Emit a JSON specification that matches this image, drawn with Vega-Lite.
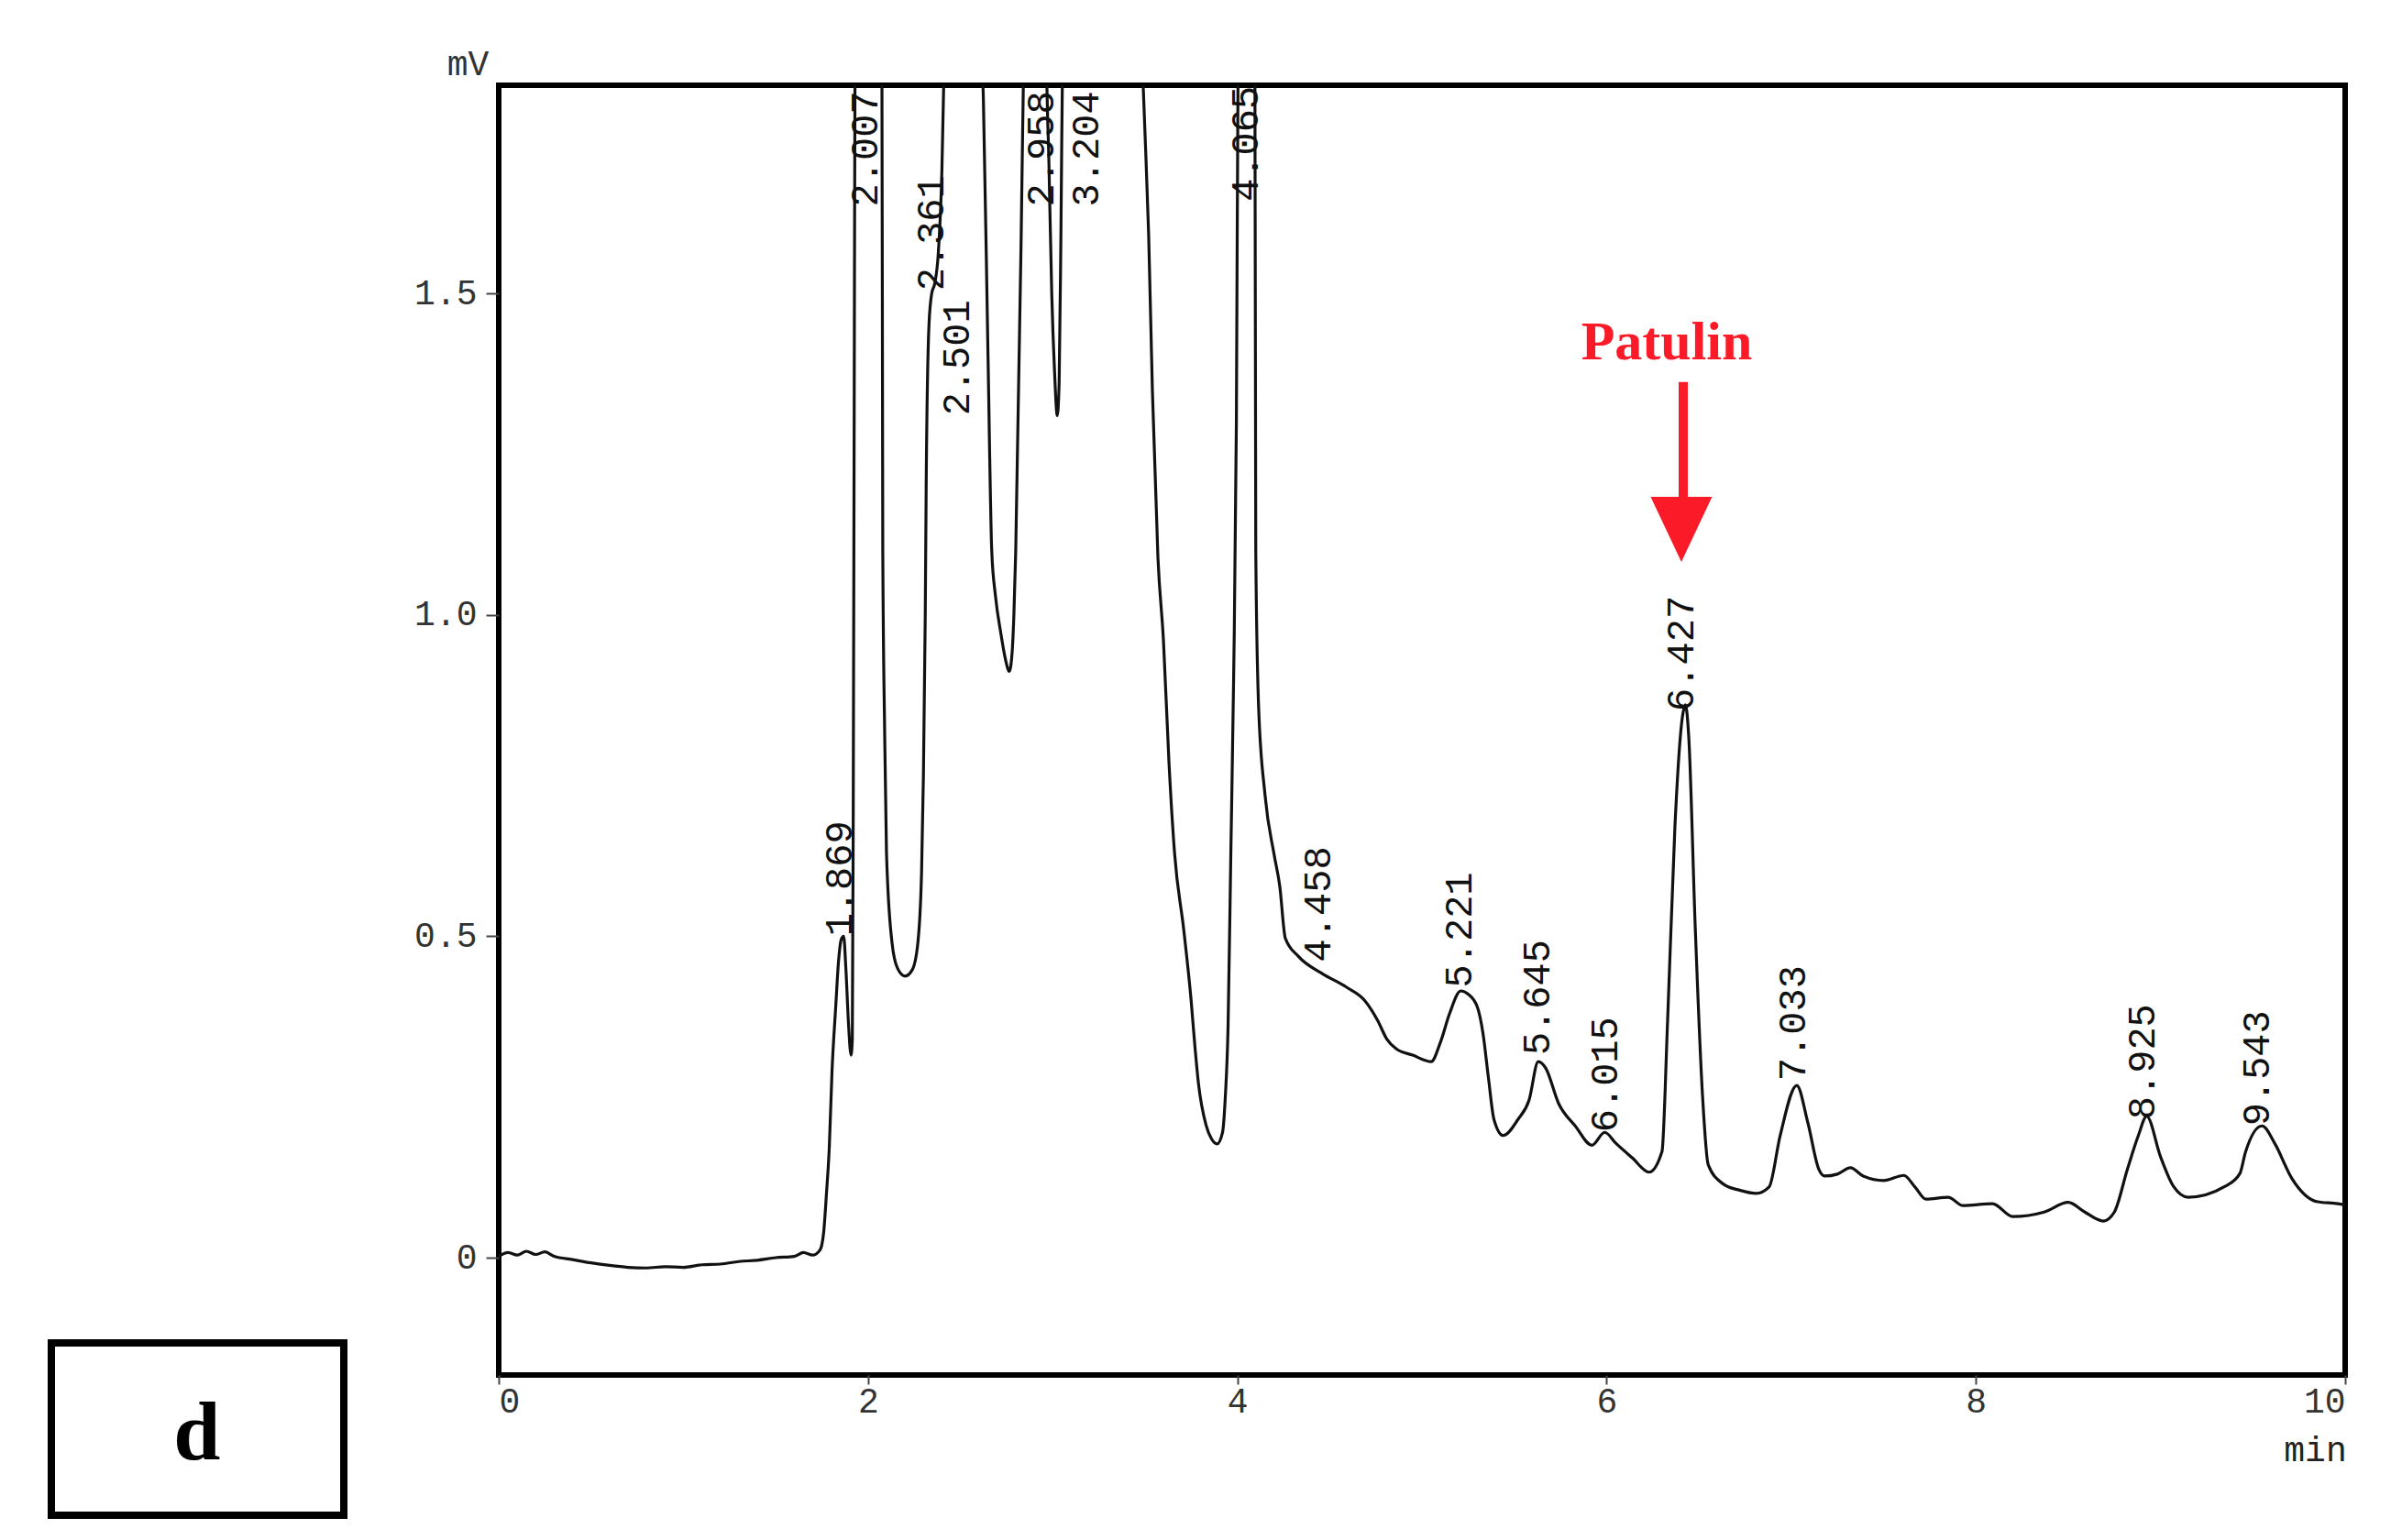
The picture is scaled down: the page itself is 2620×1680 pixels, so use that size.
{
  "$schema": "https://vega.github.io/schema/vega-lite/v6.json",
  "width": 2014,
  "height": 1407,
  "autosize": {"type": "none"},
  "padding": {"left": 544, "top": 93, "right": 62, "bottom": 180},
  "background": "white",
  "config": {
    "view": {"stroke": "#000000", "strokeWidth": 6},
    "axis": {"grid": false, "domain": false}
  },
  "datasets": {
    "trace": [
      {"t": 0.0, "v": 0.002}, {"t": 0.05, "v": 0.008}, {"t": 0.1, "v": 0.004}, {"t": 0.15, "v": 0.01}, {"t": 0.2, "v": 0.005},
      {"t": 0.25, "v": 0.009}, {"t": 0.3, "v": 0.002}, {"t": 0.4, "v": -0.003}, {"t": 0.5, "v": -0.008}, {"t": 0.6, "v": -0.012},
      {"t": 0.7, "v": -0.015}, {"t": 0.8, "v": -0.016}, {"t": 0.9, "v": -0.014}, {"t": 1.0, "v": -0.015}, {"t": 1.1, "v": -0.011},
      {"t": 1.2, "v": -0.01}, {"t": 1.3, "v": -0.006}, {"t": 1.4, "v": -0.004}, {"t": 1.5, "v": 0.0}, {"t": 1.6, "v": 0.002},
      {"t": 1.65, "v": 0.008}, {"t": 1.7, "v": 0.004}, {"t": 1.74, "v": 0.012}, {"t": 1.76, "v": 0.04}, {"t": 1.775, "v": 0.1},
      {"t": 1.79, "v": 0.17}, {"t": 1.805, "v": 0.29}, {"t": 1.825, "v": 0.39}, {"t": 1.84, "v": 0.46}, {"t": 1.855, "v": 0.495},
      {"t": 1.868, "v": 0.5}, {"t": 1.88, "v": 0.45}, {"t": 1.895, "v": 0.36}, {"t": 1.908, "v": 0.315}, {"t": 1.915, "v": 0.34},
      {"t": 1.92, "v": 0.7}, {"t": 1.925, "v": 1.3}, {"t": 1.93, "v": 1.9}, {"t": 2.007, "v": 2.8}, {"t": 2.075, "v": 1.9},
      {"t": 2.08, "v": 1.1}, {"t": 2.09, "v": 0.82}, {"t": 2.1, "v": 0.63}, {"t": 2.13, "v": 0.49}, {"t": 2.16, "v": 0.45},
      {"t": 2.2, "v": 0.438}, {"t": 2.24, "v": 0.448}, {"t": 2.27, "v": 0.49}, {"t": 2.29, "v": 0.6}, {"t": 2.3, "v": 0.75},
      {"t": 2.31, "v": 1.0}, {"t": 2.315, "v": 1.2}, {"t": 2.33, "v": 1.45}, {"t": 2.345, "v": 1.5}, {"t": 2.361, "v": 1.515},
      {"t": 2.38, "v": 1.56}, {"t": 2.4, "v": 1.69}, {"t": 2.415, "v": 1.9}, {"t": 2.501, "v": 2.8}, {"t": 2.615, "v": 1.9},
      {"t": 2.625, "v": 1.8}, {"t": 2.65, "v": 1.4}, {"t": 2.67, "v": 1.1}, {"t": 2.69, "v": 1.03}, {"t": 2.72, "v": 0.97},
      {"t": 2.745, "v": 0.93}, {"t": 2.765, "v": 0.912}, {"t": 2.78, "v": 0.94}, {"t": 2.79, "v": 1.0}, {"t": 2.8, "v": 1.1},
      {"t": 2.83, "v": 1.6}, {"t": 2.845, "v": 1.9}, {"t": 2.958, "v": 2.8}, {"t": 2.965, "v": 1.9}, {"t": 2.98, "v": 1.7},
      {"t": 2.995, "v": 1.5}, {"t": 3.01, "v": 1.38}, {"t": 3.025, "v": 1.31}, {"t": 3.035, "v": 1.36}, {"t": 3.045, "v": 1.6},
      {"t": 3.055, "v": 1.9}, {"t": 3.204, "v": 3.0}, {"t": 3.3, "v": 2.8}, {"t": 3.48, "v": 1.9}, {"t": 3.5, "v": 1.75},
      {"t": 3.52, "v": 1.59}, {"t": 3.54, "v": 1.35}, {"t": 3.57, "v": 1.09}, {"t": 3.6, "v": 0.96}, {"t": 3.63, "v": 0.77},
      {"t": 3.66, "v": 0.63}, {"t": 3.71, "v": 0.51}, {"t": 3.75, "v": 0.4}, {"t": 3.77, "v": 0.33}, {"t": 3.79, "v": 0.27},
      {"t": 3.83, "v": 0.207}, {"t": 3.86, "v": 0.185}, {"t": 3.89, "v": 0.177}, {"t": 3.92, "v": 0.195}, {"t": 3.935, "v": 0.25},
      {"t": 3.95, "v": 0.36}, {"t": 3.965, "v": 0.63}, {"t": 3.98, "v": 0.9}, {"t": 3.995, "v": 1.3}, {"t": 4.005, "v": 1.9},
      {"t": 4.065, "v": 2.6}, {"t": 4.095, "v": 1.9}, {"t": 4.1, "v": 1.1}, {"t": 4.115, "v": 0.86}, {"t": 4.15, "v": 0.72},
      {"t": 4.2, "v": 0.626}, {"t": 4.23, "v": 0.578}, {"t": 4.26, "v": 0.497}, {"t": 4.33, "v": 0.469}, {"t": 4.46, "v": 0.442},
      {"t": 4.59, "v": 0.421}, {"t": 4.69, "v": 0.4}, {"t": 4.76, "v": 0.369}, {"t": 4.81, "v": 0.34}, {"t": 4.86, "v": 0.325},
      {"t": 4.95, "v": 0.315}, {"t": 5.05, "v": 0.305}, {"t": 5.1, "v": 0.335}, {"t": 5.15, "v": 0.38}, {"t": 5.21, "v": 0.415},
      {"t": 5.25, "v": 0.41}, {"t": 5.3, "v": 0.39}, {"t": 5.33, "v": 0.35}, {"t": 5.36, "v": 0.28}, {"t": 5.39, "v": 0.215},
      {"t": 5.44, "v": 0.19}, {"t": 5.52, "v": 0.215}, {"t": 5.58, "v": 0.245}, {"t": 5.63, "v": 0.305}, {"t": 5.67, "v": 0.295},
      {"t": 5.74, "v": 0.24}, {"t": 5.83, "v": 0.205}, {"t": 5.92, "v": 0.175}, {"t": 5.99, "v": 0.195}, {"t": 6.05, "v": 0.178},
      {"t": 6.14, "v": 0.155}, {"t": 6.23, "v": 0.133}, {"t": 6.3, "v": 0.165}, {"t": 6.33, "v": 0.365}, {"t": 6.37, "v": 0.67},
      {"t": 6.41, "v": 0.84}, {"t": 6.427, "v": 0.86}, {"t": 6.445, "v": 0.81}, {"t": 6.48, "v": 0.515}, {"t": 6.52, "v": 0.25},
      {"t": 6.55, "v": 0.145}, {"t": 6.63, "v": 0.115}, {"t": 6.72, "v": 0.105}, {"t": 6.81, "v": 0.1}, {"t": 6.88, "v": 0.11},
      {"t": 6.94, "v": 0.19}, {"t": 7.03, "v": 0.268}, {"t": 7.09, "v": 0.21}, {"t": 7.15, "v": 0.137}, {"t": 7.18, "v": 0.127},
      {"t": 7.25, "v": 0.13}, {"t": 7.32, "v": 0.14}, {"t": 7.39, "v": 0.127}, {"t": 7.5, "v": 0.12}, {"t": 7.61, "v": 0.128},
      {"t": 7.67, "v": 0.11}, {"t": 7.73, "v": 0.091}, {"t": 7.85, "v": 0.094}, {"t": 7.93, "v": 0.081}, {"t": 8.09, "v": 0.084},
      {"t": 8.2, "v": 0.064}, {"t": 8.37, "v": 0.071}, {"t": 8.5, "v": 0.086}, {"t": 8.59, "v": 0.071}, {"t": 8.69, "v": 0.057},
      {"t": 8.75, "v": 0.071}, {"t": 8.82, "v": 0.137}, {"t": 8.88, "v": 0.19}, {"t": 8.925, "v": 0.22}, {"t": 9.0, "v": 0.157},
      {"t": 9.07, "v": 0.111}, {"t": 9.15, "v": 0.094}, {"t": 9.35, "v": 0.111}, {"t": 9.43, "v": 0.131}, {"t": 9.46, "v": 0.164},
      {"t": 9.55, "v": 0.205}, {"t": 9.62, "v": 0.177}, {"t": 9.71, "v": 0.124}, {"t": 9.85, "v": 0.087}, {"t": 9.96, "v": 0.084},
      {"t": 10.0, "v": 0.082}
    ],
    "peaks": [
      {"t": 1.869, "v": 0.5, "label": "1.869"},
      {"t": 2.007, "v": 1.635, "label": "2.007"},
      {"t": 2.361, "v": 1.504, "label": "2.361"},
      {"t": 2.501, "v": 1.31, "label": "2.501"},
      {"t": 2.958, "v": 1.635, "label": "2.958"},
      {"t": 3.204, "v": 1.635, "label": "3.204"},
      {"t": 4.065, "v": 1.643, "label": "4.065"},
      {"t": 4.458, "v": 0.46, "label": "4.458"},
      {"t": 5.221, "v": 0.42, "label": "5.221"},
      {"t": 5.645, "v": 0.315, "label": "5.645"},
      {"t": 6.015, "v": 0.195, "label": "6.015"},
      {"t": 6.427, "v": 0.85, "label": "6.427"},
      {"t": 7.033, "v": 0.275, "label": "7.033"},
      {"t": 8.925, "v": 0.215, "label": "8.925"},
      {"t": 9.543, "v": 0.205, "label": "9.543"}
    ],
    "boxd": [{"t": -2.423, "t2": -0.839, "v": -0.1326, "v2": -0.4007}],
    "dtext": [{"t": -1.634, "v": -0.3137, "label": "d"}],
    "patulin": [{"t": 6.326, "v": 1.397, "label": "Patulin"}],
    "arrow": [{"t": 6.415, "v": 1.362, "v2": 1.18}],
    "head": [{"t": 6.405, "v": 1.133}]
  },
  "encoding": {
    "x": {
      "field": "t", "type": "quantitative",
      "scale": {"domain": [0, 10], "nice": false, "zero": false},
      "axis": {
        "values": [0, 2, 4, 6, 8, 10], "labelFlush": true,
        "tickSize": 10, "tickWidth": 2, "tickColor": "#444",
        "labelFont": "Liberation Mono", "labelFontSize": 38, "labelColor": "#333", "labelPadding": 0,
        "title": "min", "titleFont": "Liberation Mono", "titleFontSize": 38, "titleFontWeight": "normal", "titleColor": "#222",
        "titleX": 1981, "titleY": 82, "titleAlign": "center", "titleBaseline": "middle", "titleAnchor": null
      }
    },
    "y": {
      "field": "v", "type": "quantitative",
      "scale": {"domain": [-0.1825, 1.8238], "nice": false, "zero": false},
      "axis": {
        "values": [0, 0.5, 1, 1.5],
        "labelExpr": "datum.value === 0 ? '0' : format(datum.value, '.1f')",
        "tickSize": 14, "tickWidth": 2, "tickColor": "#444",
        "labelFont": "Liberation Mono", "labelFontSize": 38, "labelColor": "#333", "labelPadding": 10,
        "title": "mV", "titleAngle": 0, "titleFont": "Liberation Mono", "titleFontSize": 38, "titleFontWeight": "normal", "titleColor": "#333",
        "titleX": -34, "titleY": -23, "titleAlign": "center", "titleBaseline": "middle", "titleAnchor": null
      }
    }
  },
  "layer": [
    {
      "data": {"name": "trace"},
      "mark": {"type": "line", "color": "#111111", "strokeWidth": 3.2, "clip": true, "interpolate": "monotone"}
    },
    {
      "data": {"name": "peaks"},
      "mark": {"type": "text", "angle": 270, "align": "left", "baseline": "alphabetic", "dy": 9, "font": "Liberation Mono", "fontSize": 42, "color": "#111"},
      "encoding": {"text": {"field": "label"}}
    },
    {
      "data": {"name": "boxd"},
      "mark": {"type": "rect", "fill": "white", "stroke": "#000", "strokeWidth": 8},
      "encoding": {"x2": {"field": "t2"}, "y2": {"field": "v2"}}
    },
    {
      "data": {"name": "dtext"},
      "mark": {"type": "text", "align": "center", "baseline": "alphabetic", "font": "Liberation Serif", "fontWeight": "bold", "fontSize": 92, "color": "#000"},
      "encoding": {"text": {"field": "label"}}
    },
    {
      "data": {"name": "patulin"},
      "mark": {"type": "text", "align": "center", "baseline": "alphabetic", "font": "Liberation Serif", "fontWeight": "bold", "fontSize": 60, "color": "#fb1b28"},
      "encoding": {"text": {"field": "label"}}
    },
    {
      "data": {"name": "arrow"},
      "mark": {"type": "rule", "color": "#fb1b28", "strokeWidth": 10},
      "encoding": {"y2": {"field": "v2"}}
    },
    {
      "data": {"name": "head"},
      "mark": {"type": "point", "shape": "M-1,-1.06L1,-1.06L0,1.06Z", "size": 4489, "filled": true, "color": "#fb1b28", "opacity": 1, "strokeWidth": 0}
    }
  ]
}
